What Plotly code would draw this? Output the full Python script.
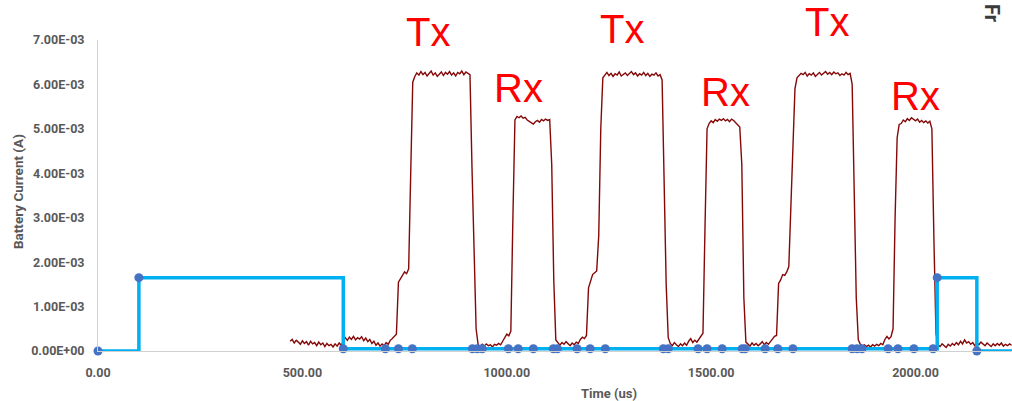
import plotly.graph_objects as go

# ---------------- data ----------------
x_tick_vals = [0, 500, 1000, 1500, 2000]
x_tick_text = ["0.00", "500.00", "1000.00", "1500.00", "2000.00"]
y_tick_vals_mA = [0, 1, 2, 3, 4, 5, 6, 7]
y_tick_text = ["0.00E+00", "1.00E-03", "2.00E-03", "3.00E-03",
               "4.00E-03", "5.00E-03", "6.00E-03", "7.00E-03"]

# blue (digital marker) series: time (us) and current (mA)
blue_t = [0, 100, 600, 703, 735, 769, 916, 928, 940, 1004, 1028, 1065, 1114, 1124,
          1172, 1204, 1241, 1383, 1395, 1468, 1490, 1527, 1576, 1583, 1632, 1663,
          1700, 1845, 1857, 1869, 1933, 1957, 1996, 2043, 2053, 2150, 2300]
blue_mA = [0, 1.65, 0.05, 0.05, 0.05, 0.05, 0.05, 0.05, 0.05, 0.05, 0.05, 0.05, 0.05, 0.05,
           0.05, 0.05, 0.05, 0.05, 0.05, 0.05, 0.05, 0.05, 0.05, 0.05, 0.05, 0.05,
           0.05, 0.05, 0.05, 0.05, 0.05, 0.05, 0.05, 0.05, 1.65, 0, 0]

SAMPLE_US = 5
red_idle1 = [0.22, 0.26, 0.18, 0.24, 0.20, 0.15, 0.23, 0.17, 0.21, 0.13,
             0.22, 0.16, 0.19, 0.12, 0.20, 0.14, 0.18, 0.10, 0.17, 0.12,
             0.15, 0.09, 0.16, 0.11, 0.18, 0.13, 0.22, 0.30, 0.24, 0.31,
             0.26, 0.33, 0.25, 0.30, 0.27, 0.32, 0.23, 0.29, 0.21, 0.26,
             0.17, 0.22, 0.13, 0.18, 0.11, 0.16, 0.12, 0.19, 0.15, 0.24,
             0.28, 0.34, 0.38]                                   # 470..730
red_tx1_ramp = [1.55, 1.62, 1.70, 1.78, 1.74, 1.85, 4.0, 6.05]      # 735..770
red_tx1 = [6.18, 6.26, 6.21, 6.29, 6.22, 6.27, 6.19, 6.25, 6.30, 6.21,
           6.26, 6.18, 6.24, 6.28, 6.20, 6.27, 6.23, 6.29, 6.21, 6.26,
           6.19, 6.27, 6.24, 6.30, 6.22, 6.28, 6.25]                # 775..905
red_gap1 = [6.22, 4.1, 2.0, 0.5,
            0.14, 0.10, 0.15, 0.11, 0.16, 0.12, 0.14, 0.09, 0.15, 0.13,
            0.17, 0.14, 0.22, 0.30, 0.38, 0.34,
            0.45, 3.0, 5.2]                                       # 910..1020
red_rx1 = [5.28, 5.25, 5.29, 5.24, 5.26, 5.20, 5.17, 5.13, 5.11, 5.16,
           5.19, 5.15, 5.21, 5.18, 5.22, 5.19, 5.21]                # 1025..1105
red_idle2 = [4.2, 1.6, 0.25,
             0.18, 0.13, 0.19, 0.15, 0.21, 0.16, 0.12, 0.18, 0.14, 0.20,
             0.17, 0.26, 0.31, 0.28, 0.35]                        # 1110..1195
red_tx2_ramp = [1.42, 1.55, 1.72, 1.76, 1.80, 2.6, 5.0, 6.15]       # 1200..1235
red_tx2 = [6.22, 6.27, 6.20, 6.25, 6.18, 6.24, 6.21, 6.28, 6.19, 6.23,
           6.26, 6.20, 6.25, 6.29, 6.22, 6.26, 6.19, 6.24, 6.21, 6.27,
           6.20, 6.25, 6.18, 6.23, 6.21, 6.26, 6.19, 6.22]          # 1240..1375
red_gap2 = [6.1, 3.8, 1.5, 0.3,
            0.17, 0.12, 0.19, 0.14, 0.10, 0.16, 0.12, 0.18, 0.13, 0.22,
            0.28, 0.19, 0.24, 0.20, 0.27, 0.31,
            0.4, 2.8, 5.0]                                        # 1380..1490
red_rx2 = [5.12, 5.18, 5.14, 5.21, 5.17, 5.22, 5.19, 5.23, 5.18, 5.21,
           5.16, 5.22, 5.19, 5.14, 5.10, 5.04]                      # 1495..1570
red_idle3 = [4.2, 1.2, 0.2,
             0.15, 0.11, 0.18, 0.13, 0.17, 0.12, 0.16, 0.21, 0.14, 0.19,
             0.15, 0.22, 0.28, 0.33]                              # 1575..1655
red_tx3_ramp = [0.35, 1.52, 1.60, 1.72, 1.70, 1.78, 1.9, 3.2, 4.8, 5.9, 6.15]  # 1660..1710
red_tx3 = [6.20, 6.25, 6.22, 6.27, 6.19, 6.24, 6.21, 6.26, 6.18, 6.23,
           6.27, 6.21, 6.25, 6.29, 6.23, 6.27, 6.22, 6.28, 6.24, 6.26,
           6.20, 6.24, 6.21, 6.27, 6.22, 6.25]                      # 1715..1840
red_gap3 = [6.0, 3.5, 1.2, 0.25,
            0.15, 0.11, 0.14, 0.10, 0.13, 0.09, 0.14, 0.11, 0.15, 0.12,
            0.17, 0.14, 0.26, 0.33, 0.27, 0.32,
            0.5, 3.0, 4.8, 5.1]                                   # 1845..1960
red_rx3 = [5.12, 5.20, 5.16, 5.23, 5.19, 5.25, 5.21, 5.18, 5.22, 5.15,
           5.19, 5.14, 5.18, 5.13, 5.17]                            # 1965..2035
red_idle4 = [5.0, 2.5, 0.4,
             0.14, 0.10, 0.16, 0.12, 0.08, 0.15, 0.11, 0.17, 0.13, 0.19,
             0.14, 0.22, 0.16, 0.25, 0.18, 0.21, 0.15, 0.19, 0.12, 0.18,
             0.14, 0.20, 0.16, 0.12, 0.18, 0.14, 0.10, 0.16, 0.12, 0.17,
             0.13, 0.18, 0.11, 0.15, 0.12, 0.16, 0.13]            # 2040..2235

red_segments = [(470, red_idle1), (735, red_tx1_ramp), (775, red_tx1),
                (910, red_gap1), (1025, red_rx1), (1110, red_idle2),
                (1200, red_tx2_ramp), (1240, red_tx2), (1380, red_gap2),
                (1495, red_rx2), (1575, red_idle3), (1660, red_tx3_ramp),
                (1715, red_tx3), (1845, red_gap3), (1965, red_rx3),
                (2040, red_idle4)]

phase_labels = ["Tx", "Rx", "Tx", "Rx", "Tx", "Rx"]
phase_label_t = [808, 1028, 1281, 1534, 1784, 1999]
phase_label_mA = [7.17, 5.91, 7.25, 5.84, 7.40, 5.73]

# ---------------- build ----------------
red_t, red_A = [], []
for start, vals in red_segments:
    for i, v in enumerate(vals):
        red_t.append(start + SAMPLE_US * i)
        red_A.append(v * 1e-3)

Y_MAX_MA = 7.0

fig = go.Figure()
fig.add_trace(go.Scatter(x=red_t, y=red_A, mode="lines",
                         line=dict(color="#840808", width=1.4),
                         hoverinfo="skip", showlegend=False))
fig.add_trace(go.Scatter(x=blue_t, y=[v * 1e-3 for v in blue_mA],
                         mode="lines+markers", line_shape="hv",
                         line=dict(color="#00B0F0", width=3.5),
                         marker=dict(color="#4472C4", size=9),
                         cliponaxis=False, showlegend=False))

axis_font = dict(family="Roboto", size=12.5, color="#595959", weight="bold")

W, H = 1012, 401
ML, MT, MB, MR = 97.5, 40, 50, 0
pw, ph = W - ML - MR, H - MT - MB

for lab, t, v in zip(phase_labels, phase_label_t, phase_label_mA):
    fig.add_annotation(x=t, y=v / Y_MAX_MA, xref="x", yref="paper", text=lab,
                       showarrow=False, xanchor="center", yanchor="middle",
                       font=dict(family="Liberation Sans", size=40, color="#FF0000"))

fig.add_annotation(x=1250, y=(H - MB - 393) / ph, xref="x", yref="paper", text="Time (us)",
                   showarrow=False, xanchor="center", yanchor="middle",
                   font=dict(family="Roboto", size=13, color="#595959", weight="bold"))
fig.add_annotation(x=(17.5 - ML) / pw, y=(H - MB - 192) / ph, xref="paper", yref="paper",
                   text="Battery Current (A)",
                   showarrow=False, textangle=-90, xanchor="center", yanchor="middle",
                   font=dict(family="Roboto", size=13.5, color="#595959", weight="bold"))
fig.add_annotation(x=(992 - ML) / pw, y=(H - MB - 13) / ph, xref="paper", yref="paper",
                   text="Fr",
                   showarrow=False, textangle=90, xanchor="center", yanchor="middle",
                   font=dict(family="Roboto", size=20, color="#3A3A3A", weight="bold"))

fig.update_layout(
    width=W, height=H,
    margin=dict(l=ML, r=MR, t=MT, b=MB, pad=0),
    paper_bgcolor="white", plot_bgcolor="white",
    showlegend=False,
    xaxis=dict(range=[0, 2236], tickvals=x_tick_vals, ticktext=x_tick_text,
               showgrid=False, zeroline=False, showline=True,
               linecolor="#D0D0D0", linewidth=1, automargin=False,
               ticks="outside", ticklen=10, tickcolor="rgba(0,0,0,0)",
               tickfont=axis_font),
    yaxis=dict(range=[0, 0.007], tickvals=[v * 1e-3 for v in y_tick_vals_mA],
               ticktext=y_tick_text, automargin=False,
               showgrid=False, zeroline=False, showline=True,
               linecolor="#D0D0D0", linewidth=1,
               ticks="outside", ticklen=10, tickcolor="rgba(0,0,0,0)",
               tickfont=axis_font),
)

fig.write_html("out.html", config={"displayModeBar": False},
               post_script="document.body.style.margin='0';document.body.style.overflow='hidden';")
